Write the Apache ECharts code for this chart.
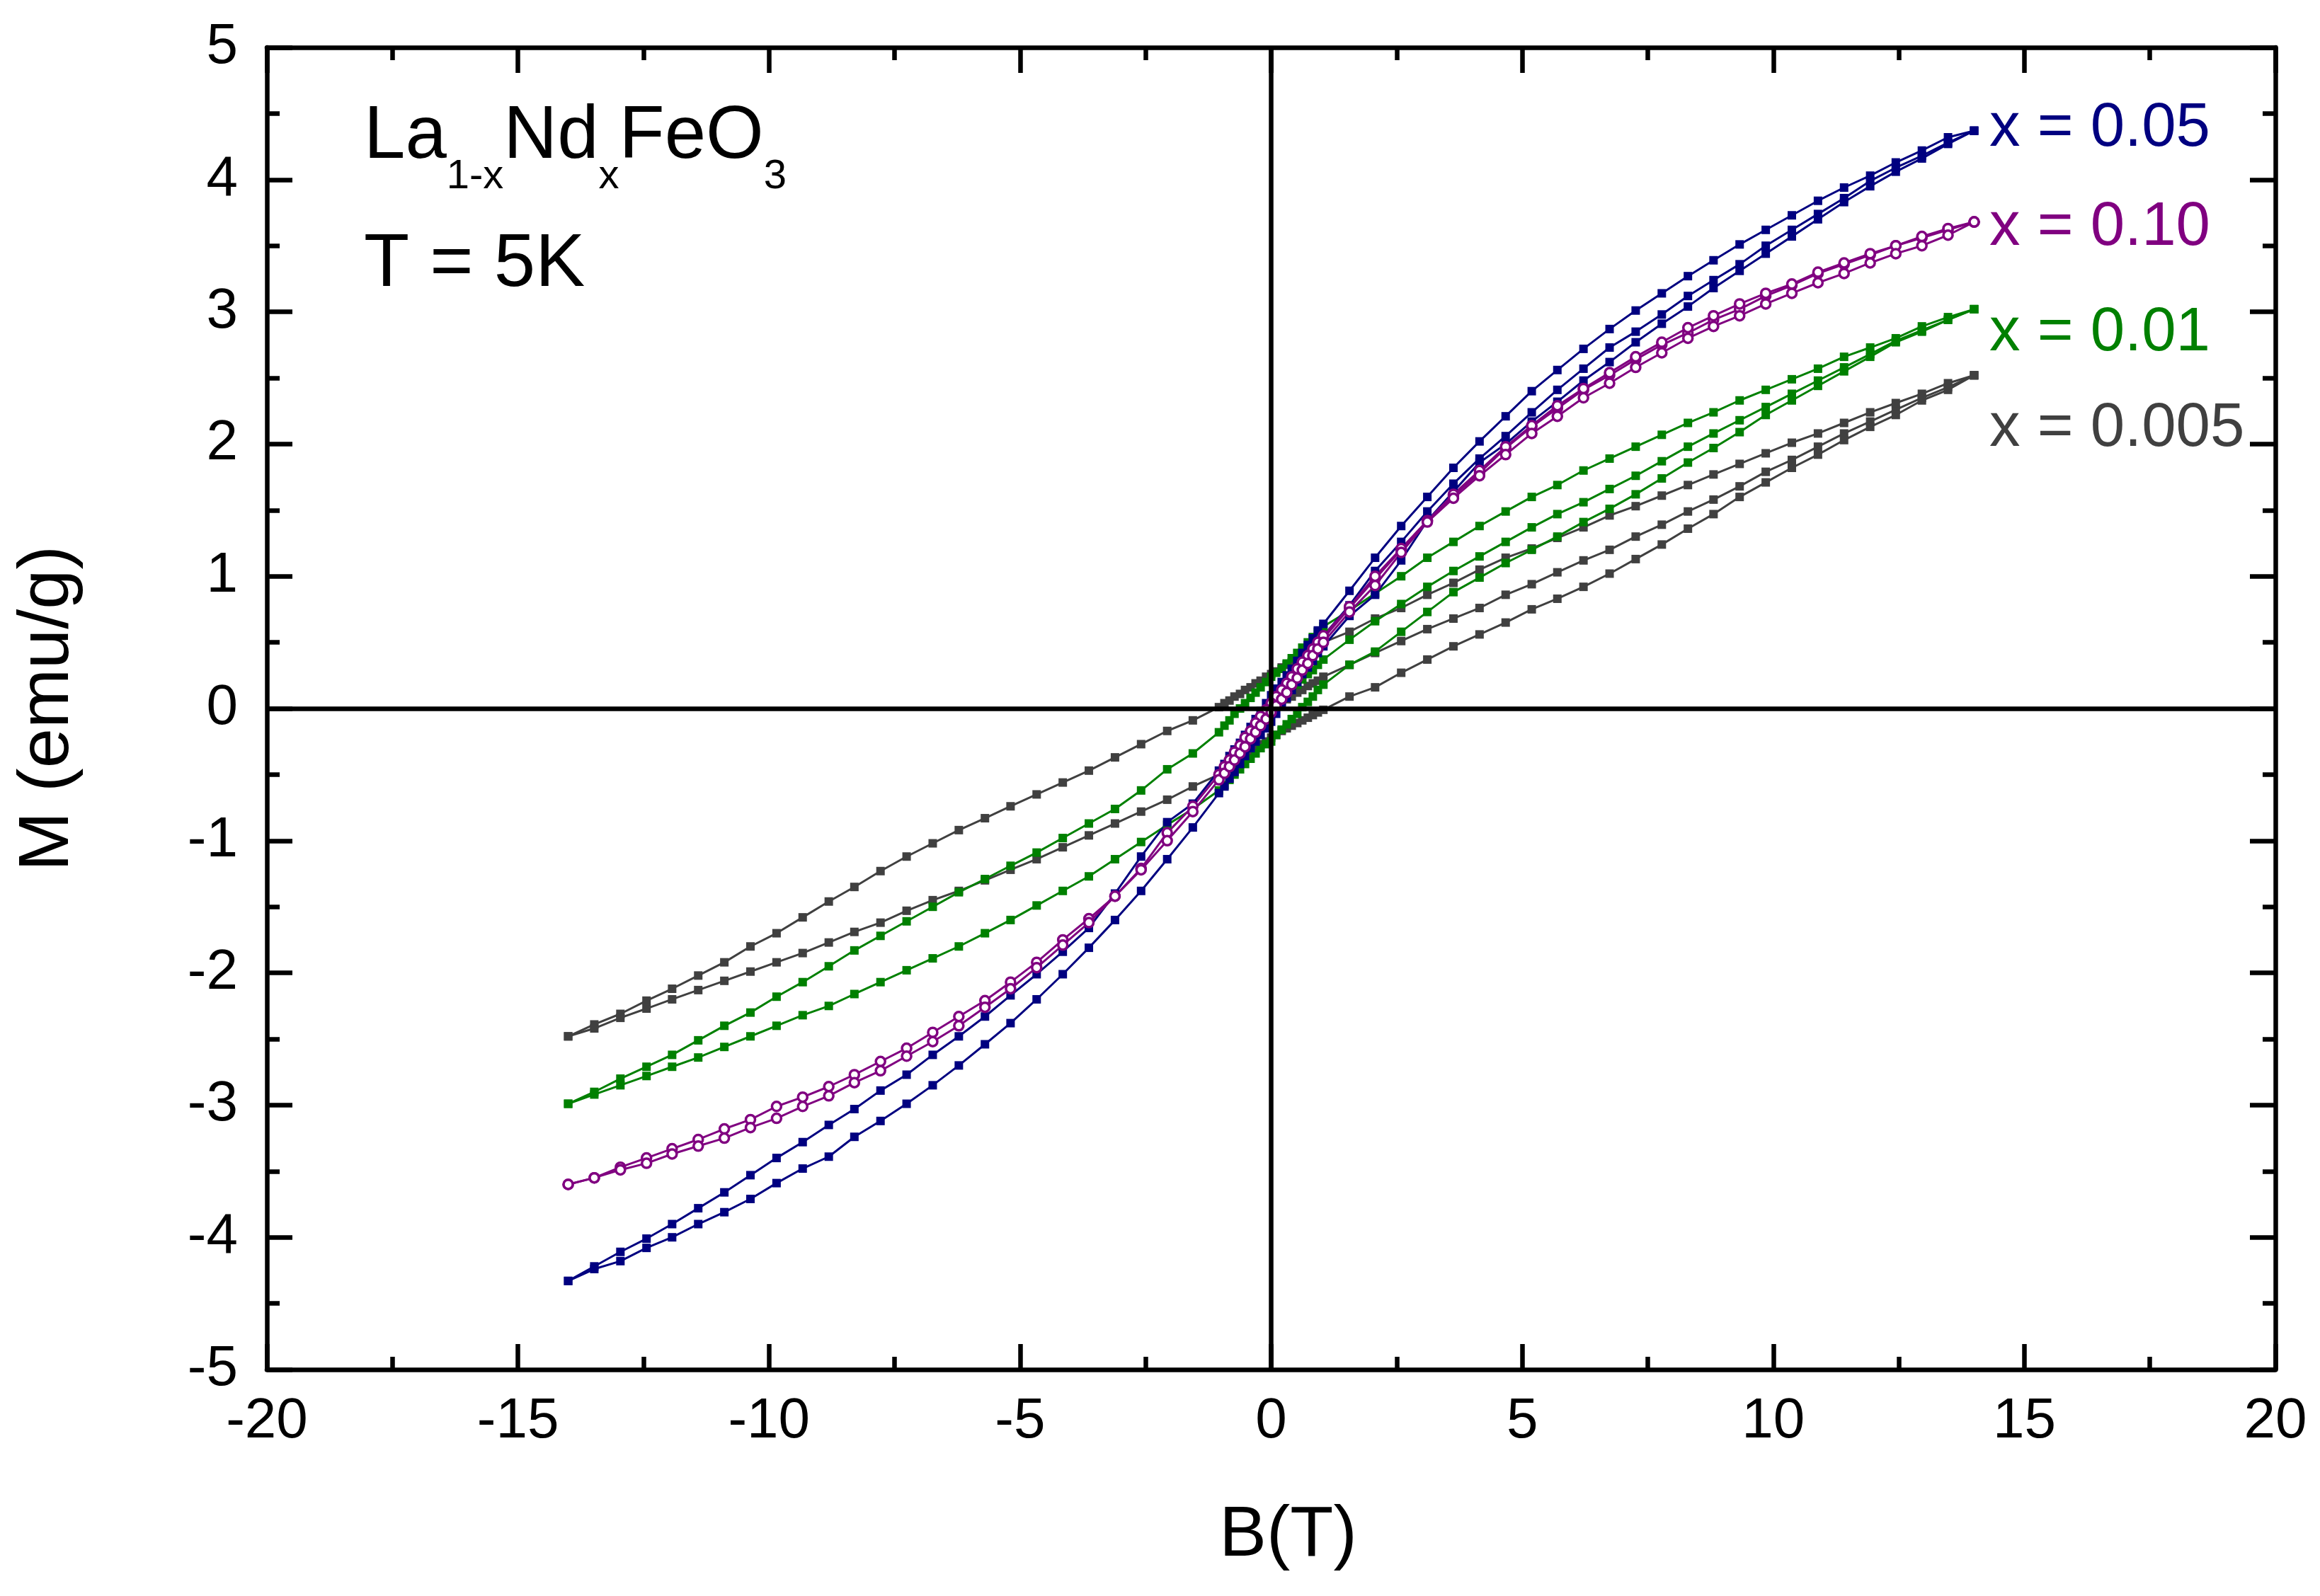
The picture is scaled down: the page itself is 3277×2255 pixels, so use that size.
<!DOCTYPE html>
<html>
<head>
<meta charset="utf-8">
<title>La1-xNdxFeO3, T = 5K</title>
<script src="https://cdn.jsdelivr.net/npm/echarts@6.0.0/dist/echarts.min.js"></script>
<style>
  html, body { margin: 0; padding: 0; background: #fff; }
  #chart { width: 3277px; height: 2255px; }
</style>
</head>
<body>
<div id="chart"></div>
<script>
// field steps of one sweep, 14 T down to -14 T (T)
var FIELD_DOWN = [14.00, 13.48, 12.96, 12.44, 11.93, 11.41, 10.89, 10.37, 9.85, 9.33, 8.81, 8.30, 7.78, 7.26, 6.74,
  6.22, 5.70, 5.19, 4.67, 4.15, 3.63, 3.11, 2.59, 2.07, 1.56,
  1.04, 0.93, 0.83, 0.73, 0.62, 0.52, 0.41, 0.31, 0.21, 0.10, 0.00, -0.10, -0.21, -0.31, -0.41, -0.52, -0.62, -0.73, -0.83, -0.93, -1.04,
  -1.56, -2.07, -2.59, -3.11, -3.63, -4.15, -4.67, -5.19, -5.70, -6.22, -6.74, -7.26, -7.78, -8.30, -8.81,
  -9.33, -9.85, -10.37, -10.89, -11.41, -11.93, -12.44, -12.96, -13.48, -14.00];
var FIELD_UP = FIELD_DOWN.slice().reverse();
// first magnetisation, 0 up to 14 T
var FIELD_VIRGIN = [0.00, 0.10, 0.21, 0.31, 0.41, 0.52, 0.62, 0.73, 0.83, 0.93, 1.04,
  1.56, 2.07, 2.59, 3.11, 3.63, 4.15, 4.67, 5.19, 5.70, 6.22, 6.74, 7.26, 7.78, 8.30, 8.81,
  9.33, 9.85, 10.37, 10.89, 11.41, 11.93, 12.44, 12.96, 13.48, 14.00];

// M (emu/g), x = 0.005
var M_0005_VIRGIN = [0.00, 0.02, 0.05, 0.07, 0.09, 0.12, 0.14, 0.17, 0.19, 0.21, 0.24,
  0.33, 0.42, 0.51, 0.60, 0.68, 0.76, 0.86, 0.94, 1.03, 1.12, 1.20, 1.30, 1.39, 1.49, 1.58,
  1.68, 1.79, 1.88, 1.98, 2.08, 2.17, 2.26, 2.35, 2.43, 2.52];
var M_0005_DOWN = [2.52, 2.46, 2.38, 2.31, 2.24, 2.16, 2.08, 2.01, 1.93, 1.85, 1.77, 1.69, 1.61, 1.53, 1.46,
  1.37, 1.29, 1.21, 1.14, 1.05, 0.95, 0.86, 0.76, 0.68, 0.58,
  0.50, 0.48, 0.45, 0.43, 0.40, 0.38, 0.35, 0.33, 0.31, 0.28, 0.26, 0.24, 0.21, 0.19, 0.16, 0.14, 0.11, 0.09, 0.06, 0.04, 0.01,
  -0.09, -0.17, -0.27, -0.37, -0.47, -0.56, -0.65, -0.74, -0.83, -0.92, -1.02, -1.12, -1.23, -1.35, -1.46,
  -1.58, -1.70, -1.80, -1.92, -2.02, -2.12, -2.21, -2.31, -2.39, -2.48];
var M_0005_UP = [-2.48, -2.42, -2.34, -2.27, -2.20, -2.13, -2.06, -1.99, -1.92, -1.85, -1.77, -1.69, -1.62, -1.53, -1.45,
  -1.38, -1.30, -1.22, -1.14, -1.05, -0.96, -0.87, -0.78, -0.69, -0.59,
  -0.50, -0.47, -0.44, -0.42, -0.39, -0.36, -0.33, -0.30, -0.27, -0.25, -0.22, -0.20, -0.17, -0.15, -0.13, -0.11, -0.09, -0.07, -0.05, -0.03, -0.01,
  0.09, 0.16, 0.27, 0.37, 0.47, 0.56, 0.65, 0.75, 0.83, 0.92, 1.02, 1.13, 1.24, 1.36, 1.47,
  1.60, 1.71, 1.82, 1.92, 2.03, 2.13, 2.22, 2.33, 2.41, 2.52];

// M (emu/g), x = 0.01
var M_001_VIRGIN = [0.00, 0.04, 0.07, 0.11, 0.15, 0.18, 0.22, 0.26, 0.29, 0.33, 0.37,
  0.52, 0.66, 0.79, 0.92, 1.04, 1.15, 1.26, 1.37, 1.47, 1.56, 1.66, 1.76, 1.87, 1.98, 2.08,
  2.18, 2.28, 2.38, 2.48, 2.58, 2.68, 2.78, 2.86, 2.94, 3.02];
var M_001_DOWN = [3.02, 2.96, 2.89, 2.80, 2.73, 2.66, 2.57, 2.49, 2.41, 2.33, 2.24, 2.16, 2.07, 1.98, 1.89,
  1.80, 1.69, 1.60, 1.49, 1.38, 1.26, 1.14, 1.00, 0.87, 0.74,
  0.62, 0.58, 0.54, 0.50, 0.46, 0.42, 0.38, 0.34, 0.30, 0.27, 0.24, 0.20, 0.16, 0.12, 0.08, 0.04, 0.00, -0.04, -0.09, -0.13, -0.18,
  -0.34, -0.46, -0.62, -0.76, -0.87, -0.98, -1.09, -1.19, -1.29, -1.39, -1.50, -1.61, -1.72, -1.83, -1.95,
  -2.07, -2.18, -2.30, -2.40, -2.51, -2.62, -2.71, -2.80, -2.90, -2.99];
var M_001_UP = [-2.99, -2.92, -2.85, -2.78, -2.71, -2.64, -2.56, -2.48, -2.40, -2.32, -2.25, -2.16, -2.07, -1.98, -1.89,
  -1.80, -1.70, -1.60, -1.49, -1.38, -1.27, -1.14, -1.01, -0.88, -0.76,
  -0.62, -0.58, -0.54, -0.50, -0.46, -0.42, -0.38, -0.34, -0.30, -0.27, -0.25, -0.20, -0.16, -0.12, -0.08, -0.04, 0.01, 0.05, 0.09, 0.14, 0.18,
  0.33, 0.43, 0.58, 0.73, 0.88, 0.99, 1.10, 1.20, 1.30, 1.41, 1.51, 1.62, 1.74, 1.86, 1.97,
  2.09, 2.22, 2.33, 2.44, 2.55, 2.66, 2.77, 2.85, 2.94, 3.02];

// M (emu/g), x = 0.05
var M_005_VIRGIN = [0.00, 0.05, 0.11, 0.16, 0.22, 0.27, 0.33, 0.38, 0.44, 0.49, 0.55,
  0.78, 1.04, 1.26, 1.49, 1.70, 1.89, 2.06, 2.24, 2.41, 2.57, 2.73, 2.85, 2.98, 3.12, 3.24,
  3.36, 3.50, 3.62, 3.74, 3.86, 3.99, 4.09, 4.18, 4.28, 4.37];
var M_005_DOWN = [4.37, 4.32, 4.22, 4.13, 4.03, 3.94, 3.84, 3.73, 3.62, 3.51, 3.39, 3.27, 3.14, 3.01, 2.87,
  2.72, 2.56, 2.40, 2.21, 2.02, 1.82, 1.60, 1.38, 1.14, 0.89,
  0.64, 0.59, 0.53, 0.48, 0.42, 0.36, 0.30, 0.25, 0.20, 0.15, 0.10, 0.04, -0.02, -0.08, -0.14, -0.20, -0.26, -0.31, -0.36, -0.42, -0.47,
  -0.72, -0.86, -1.12, -1.40, -1.66, -1.84, -2.01, -2.17, -2.33, -2.48, -2.62, -2.77, -2.89, -3.03, -3.15,
  -3.28, -3.40, -3.53, -3.66, -3.78, -3.90, -4.01, -4.11, -4.22, -4.33];
var M_005_UP = [-4.33, -4.24, -4.18, -4.08, -4.00, -3.90, -3.81, -3.71, -3.59, -3.48, -3.39, -3.24, -3.12, -2.99, -2.85,
  -2.70, -2.54, -2.38, -2.20, -2.01, -1.81, -1.60, -1.38, -1.14, -0.90,
  -0.64, -0.59, -0.53, -0.48, -0.42, -0.36, -0.30, -0.25, -0.20, -0.15, -0.10, -0.04, 0.02, 0.08, 0.14, 0.20, 0.26, 0.31, 0.36, 0.42, 0.47,
  0.70, 0.86, 1.12, 1.42, 1.64, 1.86, 2.00, 2.17, 2.32, 2.48, 2.62, 2.77, 2.91, 3.04, 3.18,
  3.31, 3.44, 3.57, 3.70, 3.83, 3.95, 4.06, 4.16, 4.27, 4.37];

// M (emu/g), x = 0.10
var M_010_VIRGIN = [0.00, 0.05, 0.10, 0.16, 0.21, 0.27, 0.32, 0.37, 0.43, 0.48, 0.53,
  0.76, 0.98, 1.20, 1.42, 1.61, 1.78, 1.97, 2.13, 2.27, 2.41, 2.52, 2.64, 2.75, 2.84, 2.94,
  3.02, 3.12, 3.20, 3.29, 3.36, 3.43, 3.50, 3.56, 3.62, 3.68];
var M_010_DOWN = [3.68, 3.63, 3.57, 3.50, 3.44, 3.37, 3.30, 3.21, 3.14, 3.06, 2.97, 2.88, 2.77, 2.66, 2.54,
  2.42, 2.29, 2.14, 1.98, 1.80, 1.62, 1.42, 1.21, 1.00, 0.77,
  0.55, 0.50, 0.45, 0.40, 0.35, 0.30, 0.24, 0.19, 0.14, 0.09, 0.04, -0.01, -0.06, -0.11, -0.17, -0.22, -0.28, -0.33, -0.39, -0.44, -0.50,
  -0.74, -0.94, -1.21, -1.42, -1.59, -1.75, -1.92, -2.07, -2.21, -2.33, -2.45, -2.57, -2.67, -2.77, -2.86,
  -2.94, -3.01, -3.11, -3.18, -3.26, -3.33, -3.40, -3.47, -3.55, -3.60];
var M_010_UP = [-3.60, -3.55, -3.49, -3.44, -3.37, -3.31, -3.25, -3.17, -3.10, -3.01, -2.93, -2.83, -2.74, -2.63, -2.52,
  -2.40, -2.26, -2.12, -1.96, -1.79, -1.62, -1.42, -1.22, -1.00, -0.78,
  -0.54, -0.49, -0.44, -0.39, -0.34, -0.29, -0.23, -0.18, -0.13, -0.08, -0.03, 0.02, 0.07, 0.12, 0.18, 0.23, 0.29, 0.34, 0.40, 0.45, 0.50,
  0.73, 0.93, 1.18, 1.41, 1.59, 1.76, 1.92, 2.08, 2.21, 2.35, 2.46, 2.58, 2.69, 2.80, 2.89,
  2.97, 3.06, 3.14, 3.22, 3.29, 3.37, 3.44, 3.50, 3.58, 3.68];

var SAMPLE_LABELS = ['x = 0.005', 'x = 0.01', 'x = 0.05', 'x = 0.10'];
var FORMULA = [['La', 0], ['1-x', 1], ['Nd', 0], ['x', 1], ['FeO', 0], ['3', 1]];
var TEMPERATURE = 'T = 5K';

var FONT = '"Liberation Sans", Arial, Helvetica, sans-serif';
var COLORS = ['#404040', '#008000', '#000080', '#800080'];

var chart = echarts.init(document.getElementById('chart'), null, { renderer: 'canvas' });

function branch(name, color, hollow, fields, values) {
    var data = fields.map(function (b, i) { return [b, values[i]]; });
    return {
        name: name,
        type: 'line',
        data: data,
        symbol: hollow ? 'circle' : 'rect',
        symbolSize: hollow ? 13 : 12,
        showAllSymbol: true,
        lineStyle: { color: color, width: 3 },
        itemStyle: hollow ? { color: '#fff', borderColor: color, borderWidth: 3.5 }
                          : { color: color, borderWidth: 0 },
        emphasis: { disabled: true },
        silent: true
    };
}

var sets = [
    [M_0005_VIRGIN, M_0005_DOWN, M_0005_UP],
    [M_001_VIRGIN, M_001_DOWN, M_001_UP],
    [M_005_VIRGIN, M_005_DOWN, M_005_UP],
    [M_010_VIRGIN, M_010_DOWN, M_010_UP]
];

var series = [{
    // the two zero lines through the origin
    type: 'line',
    data: [],
    silent: true,
    markLine: {
        silent: true,
        symbol: 'none',
        label: { show: false },
        lineStyle: { color: '#000', width: 6.5, type: 'solid' },
        data: [{ xAxis: 0 }, { yAxis: 0 }]
    }
}];
sets.forEach(function (s, k) {
    var hollow = k === 3;
    series.push(branch(SAMPLE_LABELS[k], COLORS[k], hollow, FIELD_VIRGIN, s[0]));
    series.push(branch(SAMPLE_LABELS[k], COLORS[k], hollow, FIELD_DOWN, s[1]));
    series.push(branch(SAMPLE_LABELS[k], COLORS[k], hollow, FIELD_UP, s[2]));
});

function frameAxis(extra) {
    var ax = {
        type: 'value',
        axisLine: { show: true, onZero: false, lineStyle: { color: '#000', width: 6.5 } },
        axisTick: { show: true, inside: true, length: 36, lineStyle: { color: '#000', width: 6.5 } },
        minorTick: { show: true, splitNumber: 2, length: 18, lineStyle: { color: '#000', width: 6.5 } },
        splitLine: { show: false },
        minorSplitLine: { show: false },
        axisLabel: { show: false }
    };
    for (var k in extra) ax[k] = extra[k];
    return ax;
}

// text pieces in the upper left corner
var ctx = document.createElement('canvas').getContext('2d');
function textWidth(t, size) {
    ctx.font = size + 'px ' + FONT;
    return ctx.measureText(t).width;
}
var graphics = [];
var px = 514;
FORMULA.forEach(function (p) {
    var size = p[1] ? 58 : 105;
    var y = p[1] ? 270 - 0.3465 * 58 : 230 - 0.3465 * 105;
    graphics.push({
        type: 'text', x: px, y: y, z: 100,
        style: { text: p[0], fontSize: size, fontFamily: FONT, fill: '#000', align: 'left', verticalAlign: 'middle' }
    });
    px += textWidth(p[0], size);
});
graphics.push({
    type: 'text', x: 514, y: 411 - 0.3465 * 105, z: 100,
    style: { text: TEMPERATURE, fontSize: 105, fontFamily: FONT, fill: '#000', align: 'left', verticalAlign: 'middle' }
});
var labelY = [606, 471, 182, 322];
SAMPLE_LABELS.forEach(function (t, k) {
    graphics.push({
        type: 'text', x: 2810, y: labelY[k], z: 100,
        style: { text: t, fontSize: 87, fontFamily: FONT, fill: COLORS[k], align: 'left', verticalAlign: 'middle' }
    });
});

var option = {
    animation: false,
    backgroundColor: '#fff',
    textStyle: { fontFamily: FONT },
    grid: { left: 377, right: 63, top: 67, bottom: 320, containLabel: false },
    xAxis: [
        frameAxis({
            position: 'bottom', min: -20, max: 20, interval: 5,
            axisLabel: { show: true, color: '#000', fontSize: 80, fontFamily: FONT, margin: 34 },
            name: 'B(T)', nameLocation: 'middle', nameGap: 185,
            nameTextStyle: { color: '#000', fontSize: 100, fontFamily: FONT, padding: [0, 0, 0, 48] }
        }),
        frameAxis({ position: 'top', min: -20, max: 20, interval: 5 })
    ],
    yAxis: [
        frameAxis({
            position: 'left', min: -5, max: 5, interval: 1,
            axisLabel: { show: true, color: '#000', fontSize: 80, fontFamily: FONT, margin: 41 },
            name: 'M (emu/g)', nameLocation: 'middle', nameGap: 258,
            nameTextStyle: { color: '#000', fontSize: 101, fontFamily: FONT }
        }),
        frameAxis({ position: 'right', min: -5, max: 5, interval: 1 })
    ],
    graphic: graphics,
    series: series
};

chart.setOption(option);
</script>
</body>
</html>
